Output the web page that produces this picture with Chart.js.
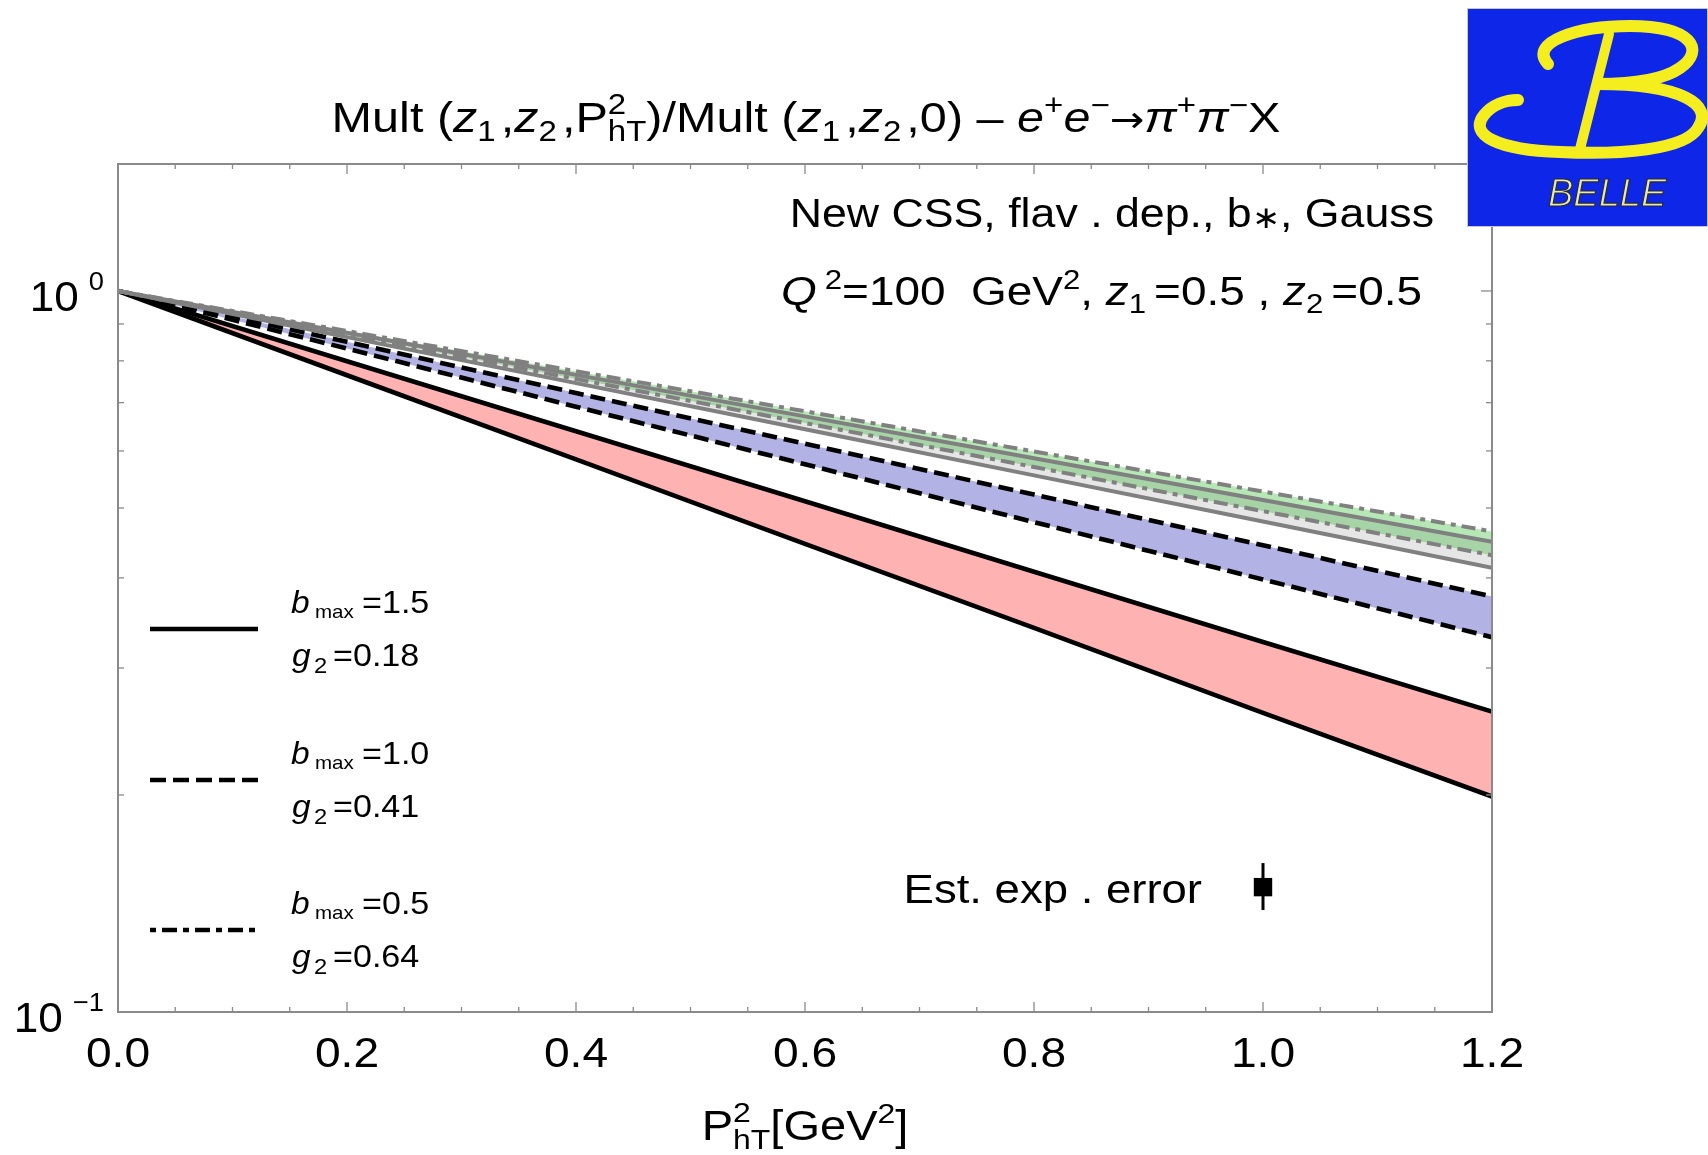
<!DOCTYPE html>
<html>
<head>
<meta charset="utf-8">
<script src="https://cdn.jsdelivr.net/npm/chart.js@4.4.1/dist/chart.umd.min.js"></script>
<style>
html,body{margin:0;padding:0;background:#fff;}
canvas{display:block;}
</style>
</head>
<body>
<canvas id="c" width="1708" height="1155"></canvas>
<script>
// ---------------- data ----------------
const xValues    = [0, 0.2, 0.4, 0.6, 0.8, 1.0, 1.2];
const redUpper   = [1, 0.799, 0.639, 0.511, 0.408, 0.326, 0.261];   // b_max=1.5 band
const redLower   = [1, 0.764, 0.584, 0.446, 0.341, 0.260, 0.199];
const blueUpper  = [1, 0.850, 0.722, 0.614, 0.522, 0.444, 0.377];   // b_max=1.0 band
const blueLower  = [1, 0.832, 0.691, 0.575, 0.478, 0.398, 0.331];
const greenUpper = [1, 0.880, 0.774, 0.681, 0.599, 0.527, 0.464];   // b_max=0.5 band
const greenLower = [1, 0.869, 0.755, 0.656, 0.570, 0.495, 0.430];
const grayUpper  = [1, 0.875, 0.765, 0.670, 0.586, 0.513, 0.449];   // grey band
const grayLower  = [1, 0.863, 0.745, 0.643, 0.555, 0.479, 0.413];
const errX       = [1.0];
const errCenter  = [0.149];
const errLow     = [0.1385];
const errHigh    = [0.1609];

// ticks
const xTickValues = [0, 0.2, 0.4, 0.6, 0.8, 1.0, 1.2];
const xTickLabels = ['0.0', '0.2', '0.4', '0.6', '0.8', '1.0', '1.2'];
const xMinorTicks = [0.05, 0.1, 0.15, 0.25, 0.3, 0.35, 0.45, 0.5, 0.55, 0.65, 0.7, 0.75, 0.85, 0.9, 0.95, 1.05, 1.1, 1.15];
const yTickValues = [1, 0.1];
const yTickBase   = ['10', '10'];
const yTickExps   = ['0', '\u22121'];
const yMinorTicks = [0.2, 0.3, 0.4, 0.5, 0.6, 0.7, 0.8, 0.9];

// legend
const legendB = ['1.5', '1.0', '0.5'];
const legendG = ['0.18', '0.41', '0.64'];
const legendDash = [[], [16, 7], [6, 6, 15, 6]];

const FAMILY = '"Liberation Sans", Arial, Helvetica, sans-serif';
const pts = ys => xValues.map((x, i) => ({x: x, y: ys[i]}));

const BLACK = '#000000', GREY = '#808080';
const DASH = [15, 7], DASHDOT = [14, 6, 5, 6];

const datasets = [
  {data: pts(greenUpper), borderColor: GREY, borderWidth: 4, borderDash: DASHDOT, fill: '+1', backgroundColor: 'rgb(182,232,182)'},
  {data: pts(grayUpper),  borderColor: GREY, borderWidth: 4, fill: '+1', backgroundColor: 'rgb(166,212,166)'},
  {data: pts(greenLower), borderColor: GREY, borderWidth: 4, borderDash: DASHDOT, fill: '+1', backgroundColor: 'rgb(230,230,230)'},
  {data: pts(grayLower),  borderColor: GREY, borderWidth: 4, fill: false},
  {data: pts(blueUpper),  borderColor: BLACK, borderWidth: 4.6, borderDash: DASH, fill: '+1', backgroundColor: 'rgb(178,178,228)'},
  {data: pts(blueLower),  borderColor: BLACK, borderWidth: 4.6, borderDash: DASH, fill: false},
  {data: pts(redUpper),   borderColor: BLACK, borderWidth: 4.6, fill: '+1', backgroundColor: 'rgb(255,178,178)'},
  {data: pts(redLower),   borderColor: BLACK, borderWidth: 4.6, fill: false},
  {data: [{x: errX[0], y: errLow[0]}, {x: errX[0], y: errHigh[0]}], borderColor: BLACK, borderWidth: 3, fill: false},
  {data: [{x: errX[0], y: errCenter[0]}], showLine: false, pointRadius: 13, pointStyle: 'rect', pointBackgroundColor: BLACK, pointBorderWidth: 0, fill: false}
];

function fnt(sz, it, fam) { return (it ? 'italic ' : '') + sz + 'px ' + (fam || FAMILY); }

// stretched single text
function fillS(ctx, t, x, y, st) {
  ctx.save(); ctx.translate(x, y); ctx.scale(st, 1); ctx.fillText(t, 0, 0); ctx.restore();
}

// rich text: segments {t, i, sub, sup, stack:[sup,sub], gap, f, sc, dy}
function drawRich(ctx, segs, x, y, base, align, st) {
  const small = base * 0.68;
  const widths = segs.map(s => {
    if (s.gap) return s.gap;
    if (s.stack) {
      ctx.font = fnt(small, false);
      return st * Math.max(ctx.measureText(s.stack[0]).width, ctx.measureText(s.stack[1]).width);
    }
    ctx.font = fnt(s.sc ? base * s.sc : ((s.sub || s.sup) ? small : base), s.i, s.f);
    return st * ctx.measureText(s.t).width;
  });
  const total = widths.reduce((a, b) => a + b, 0);
  let cx = align === 'right' ? x - total : align === 'center' ? x - total / 2 : x;
  ctx.textAlign = 'left';
  ctx.textBaseline = 'alphabetic';
  segs.forEach((s, k) => {
    if (s.gap) { cx += s.gap; return; }
    if (s.stack) {
      ctx.font = fnt(small, false);
      fillS(ctx, s.stack[0], cx, y - base * 0.42, st);
      fillS(ctx, s.stack[1], cx, y + base * 0.22, st);
    } else {
      const sz = s.sc ? base * s.sc : ((s.sub || s.sup) ? small : base);
      ctx.font = fnt(sz, s.i, s.f);
      let dy = s.sub ? base * 0.2 : s.sup ? -base * 0.4 : 0;
      if (s.dy) dy = s.dy * base;
      fillS(ctx, s.t, cx, y + dy, st);
    }
    cx += widths[k];
  });
}

const titleSegs = [
  {t: 'Mult ('}, {t: 'z', i: 1}, {t: '1', sub: 1}, {gap: 5}, {t: ','}, {t: 'z', i: 1}, {t: '2', sub: 1}, {gap: 5}, {t: ','},
  {t: 'P'}, {stack: ['2', 'hT']}, {t: ')/Mult ('}, {t: 'z', i: 1}, {t: '1', sub: 1}, {gap: 5}, {t: ','}, {t: 'z', i: 1}, {t: '2', sub: 1}, {gap: 5},
  {t: ',0) \u2013 '}, {t: 'e', i: 1}, {t: '+', sup: 1}, {t: 'e', i: 1}, {t: '\u2212', sup: 1},
  {t: '\u2192', f: '"DejaVu Sans"', sc: 0.85, dy: 0},
  {t: '\u03C0', i: 1}, {t: '+', sup: 1}, {t: '\u03C0', i: 1}, {t: '\u2212', sup: 1}, {t: 'X'}
];
const ann1Segs = [{t: 'New CSS, flav . dep., b'}, {t: '\u2217', sc: 0.75, dy: 0.02}, {t: ', Gauss'}];
const ann2Segs = [
  {t: 'Q', i: 1}, {gap: 8}, {t: '2', sup: 1}, {t: '=100  GeV'}, {t: '2', sup: 1}, {t: ', '}, {t: 'z', i: 1}, {t: '1', sub: 1}, {gap: 8},
  {t: '=0.5 , '}, {t: 'z', i: 1}, {t: '2', sub: 1}, {gap: 8}, {t: '=0.5'}
];
const errSegs = [{t: 'Est. exp . error'}];
const xTitleSegs = [{t: 'P'}, {stack: ['2', 'hT']}, {t: '[GeV'}, {t: '2', sup: 1}, {t: ']'}];

const decor = {
  id: 'decor',
  afterDraw(chart) {
    const ctx = chart.ctx, a = chart.chartArea, xs = chart.scales.x, ys = chart.scales.y;
    ctx.save();
    // frame
    ctx.strokeStyle = '#8a8a8a';
    ctx.lineWidth = 2;
    ctx.strokeRect(a.left, a.top, a.right - a.left, a.bottom - a.top);
    // ticks (inward on all four sides)
    ctx.lineWidth = 1.3;
    const tick = (x1, y1, x2, y2) => { ctx.beginPath(); ctx.moveTo(x1, y1); ctx.lineTo(x2, y2); ctx.stroke(); };
    xTickValues.forEach(v => { const p = xs.getPixelForValue(v); tick(p, a.bottom, p, a.bottom - 10); tick(p, a.top, p, a.top + 10); });
    xMinorTicks.forEach(v => { const p = xs.getPixelForValue(v); tick(p, a.bottom, p, a.bottom - 5); tick(p, a.top, p, a.top + 5); });
    yTickValues.forEach(v => { const p = ys.getPixelForValue(v); tick(a.left, p, a.left + 11, p); tick(a.right, p, a.right - 11, p); });
    yMinorTicks.forEach(v => { const p = ys.getPixelForValue(v); tick(a.left, p, a.left + 6, p); tick(a.right, p, a.right - 6, p); });

    ctx.fillStyle = '#000';
    // x tick labels
    ctx.font = fnt(42, false);
    ctx.textBaseline = 'alphabetic';
    xTickValues.forEach((v, i) => {
      const w = ctx.measureText(xTickLabels[i]).width * 1.1;
      ctx.textAlign = 'left';
      fillS(ctx, xTickLabels[i], xs.getPixelForValue(v) - w / 2, a.bottom + 55, 1.1);
    });
    // y tick labels 10^n
    yTickValues.forEach((v, i) => {
      const p = ys.getPixelForValue(v);
      ctx.textAlign = 'left';
      ctx.font = fnt(26, false);
      const right = a.left - 14;
      const ew = ctx.measureText(yTickExps[i]).width * 1.05;
      fillS(ctx, yTickExps[i], right - ew, p - 1, 1.05);
      ctx.font = fnt(42, false);
      const bw = ctx.measureText(yTickBase[i]).width * 1.05;
      fillS(ctx, yTickBase[i], right - ew - 10 - bw, p + 20, 1.05);
    });
    // x axis title
    drawRich(ctx, xTitleSegs, 805, a.bottom + 128, 42, 'center', 1.12);
    // title
    drawRich(ctx, titleSegs, 806, 132, 43, 'center', 1.13);
    // annotations
    drawRich(ctx, ann1Segs, 1434, 227, 41, 'right', 1.09);
    drawRich(ctx, ann2Segs, 1422, 305, 41, 'right', 1.12);
    drawRich(ctx, errSegs, xs.getPixelForValue(errX[0]) - 61, 903, 41, 'right', 1.11);

    // legend
    const lineY = [629, 780, 930];
    lineY.forEach((ly, i) => {
      ctx.save();
      ctx.strokeStyle = '#000';
      ctx.lineWidth = 4.5;
      ctx.setLineDash(legendDash[i]);
      ctx.beginPath(); ctx.moveTo(150, ly); ctx.lineTo(258, ly); ctx.stroke();
      ctx.restore();
      ctx.fillStyle = '#000';
      ctx.textAlign = 'left';
      const bY = ly - 16, gY = ly + 37;
      ctx.font = fnt(31, true); fillS(ctx, 'b', 291, bY, 1.08);
      ctx.font = fnt(19, false); fillS(ctx, 'max', 315, bY + 5, 1.08);
      ctx.font = fnt(31, false); fillS(ctx, '=' + legendB[i], 362, bY, 1.1);
      ctx.font = fnt(31, true); fillS(ctx, 'g', 292, gY, 1.08);
      ctx.font = fnt(22, false); fillS(ctx, '2', 314, gY + 7, 1.08);
      ctx.font = fnt(31, false); fillS(ctx, '=' + legendG[i], 333, gY, 1.1);
    });

    // Belle logo
    ctx.fillStyle = 'rgb(14,38,232)';
    ctx.fillRect(1467, 8, 241, 219);
    ctx.strokeStyle = '#c8c8c8';
    ctx.lineWidth = 1;
    ctx.strokeRect(1467.5, 8.5, 240, 218);
    ctx.strokeStyle = 'rgb(244,238,30)';
    ctx.lineCap = 'round';
    ctx.lineWidth = 12;
    ctx.beginPath();
    ctx.moveTo(1548, 64);
    ctx.bezierCurveTo(1528, 42, 1578, 26, 1630, 26);
    ctx.bezierCurveTo(1692, 26, 1706, 50, 1680, 68);
    ctx.bezierCurveTo(1660, 82, 1620, 84, 1598, 84);
    ctx.stroke();
    ctx.beginPath();
    ctx.moveTo(1598, 84);
    ctx.bezierCurveTo(1682, 84, 1714, 105, 1698, 128);
    ctx.bezierCurveTo(1685, 150, 1620, 155, 1560, 152);
    ctx.bezierCurveTo(1498, 150, 1468, 135, 1484, 115);
    ctx.bezierCurveTo(1492, 105, 1505, 100, 1518, 100);
    ctx.stroke();
    ctx.lineWidth = 10;
    ctx.beginPath(); ctx.moveTo(1609, 34); ctx.lineTo(1580, 149); ctx.stroke();
    ctx.font = 'italic 38px ' + FAMILY;
    ctx.textAlign = 'left';
    ctx.fillStyle = 'rgb(232,232,178)';
    ctx.strokeStyle = '#2a2a2a';
    ctx.lineWidth = 1.2;
    ctx.fillText('BELLE', 1548, 206);
    ctx.strokeText('BELLE', 1548, 206);
    ctx.restore();
  }
};

new Chart(document.getElementById('c'), {
  type: 'line',
  data: {datasets: datasets},
  options: {
    responsive: false,
    animation: false,
    devicePixelRatio: 1,
    layout: {padding: {left: 118, right: 216, top: 164, bottom: 143}},
    elements: {line: {tension: 0}, point: {radius: 0}},
    scales: {
      x: {type: 'linear', min: 0, max: 1.2, display: false},
      y: {type: 'logarithmic', min: 0.1, max: 1.5, display: false}
    },
    plugins: {
      legend: {display: false},
      tooltip: {enabled: false},
      filler: {drawTime: 'beforeDatasetsDraw'}
    }
  },
  plugins: [decor]
});
</script>
</body>
</html>
